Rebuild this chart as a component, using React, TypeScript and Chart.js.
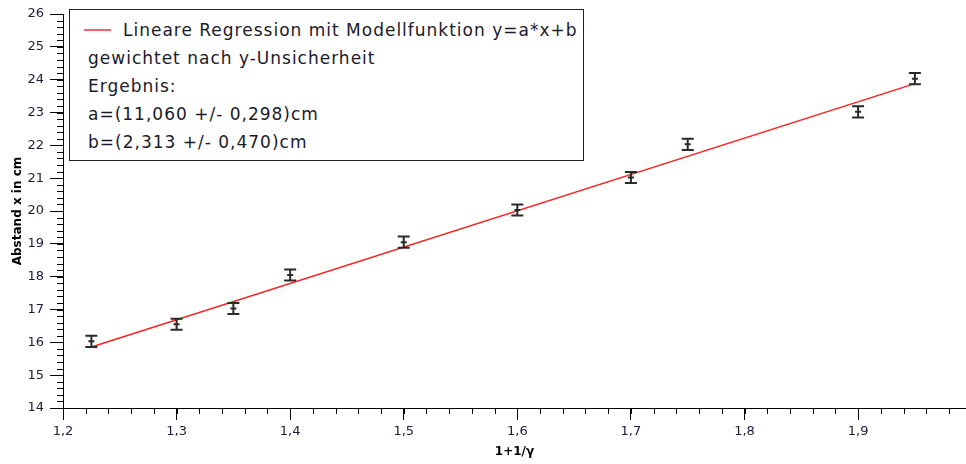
import React, { useEffect, useRef } from "react";
import { Chart, registerables } from "chart.js";

Chart.register(...registerables);

const xValues = [1.225, 1.3, 1.35, 1.4, 1.5, 1.6, 1.7, 1.75, 1.9, 1.95];
const yValues = [16.03, 16.55, 17.03, 18.05, 19.05, 20.03, 21.02, 22.03, 23.02, 24.03];
const yErrors = [0.17, 0.17, 0.17, 0.17, 0.17, 0.17, 0.17, 0.17, 0.17, 0.17];
const fitX = [1.225, 1.95];
const fitY = [15.86, 23.88];
const xTicks = [1.2, 1.3, 1.4, 1.5, 1.6, 1.7, 1.8, 1.9];
const legendLines = [
  "gewichtet nach y-Unsicherheit",
  "Ergebnis:",
  "a=(11,060 +/- 0,298)cm",
  "b=(2,313 +/- 0,470)cm",
];
const legendTitle = "Lineare Regression mit Modellfunktion y=a*x+b";

const FONT = "'DejaVu Sans', Verdana, sans-serif";

export default function App() {
  const canvasRef = useRef<HTMLCanvasElement | null>(null);

  useEffect(() => {
    document.body.style.margin = "0";
    const canvas = canvasRef.current!;
    const axisPlugin = {
      id: "extras",
      afterDatasetsDraw(chart: any) {
        const ctx = chart.ctx;
        const xs = chart.scales.x;
        const ys = chart.scales.y;
        const area = chart.chartArea;
        ctx.save();
        // minor ticks
        ctx.strokeStyle = "#000";
        ctx.lineWidth = 1;
        ctx.beginPath();
        for (let v = 1.2; v <= 2.0; v += 0.02) {
          const px = Math.round(xs.getPixelForValue(v)) + 0.5;
          if (px > area.right + 1) break;
          ctx.moveTo(px, area.bottom);
          ctx.lineTo(px, area.bottom + 6);
        }
        for (let v = 14; v <= 26.001; v += 0.2) {
          const py = Math.round(ys.getPixelForValue(v)) + 0.5;
          ctx.moveTo(area.left, py);
          ctx.lineTo(area.left - 6, py);
        }
        ctx.stroke();
        // error bars
        ctx.strokeStyle = "#2a2a2a";
        ctx.lineWidth = 2;
        ctx.beginPath();
        for (let i = 0; i < xValues.length; i++) {
          const px = xs.getPixelForValue(xValues[i]);
          const top = ys.getPixelForValue(yValues[i] + yErrors[i]);
          const bot = ys.getPixelForValue(yValues[i] - yErrors[i]);
          const mid = ys.getPixelForValue(yValues[i]);
          ctx.moveTo(px, top);
          ctx.lineTo(px, bot);
          ctx.moveTo(px - 6, top);
          ctx.lineTo(px + 6, top);
          ctx.moveTo(px - 6, bot);
          ctx.lineTo(px + 6, bot);
          ctx.moveTo(px - 3, mid);
          ctx.lineTo(px + 3, mid);
        }
        ctx.stroke();
        ctx.restore();
      },
    };

    const chart = new Chart(canvas, {
      type: "scatter",
      data: {
        datasets: [
          {
            type: "line",
            label: legendTitle,
            data: fitX.map((x, i) => ({ x, y: fitY[i] })),
            borderColor: "#ff2020",
            borderWidth: 1.5,
            pointRadius: 0,
            showLine: true,
          },
          {
            label: "data",
            data: xValues.map((x, i) => ({ x, y: yValues[i] })),
            pointRadius: 0,
            backgroundColor: "#2a2a2a",
          },
        ],
      },
      options: {
        animation: false,
        responsive: false,
        maintainAspectRatio: false,
        layout: { padding: { top: 14, right: 0, left: 0, bottom: 0 } },
        plugins: { legend: { display: false }, tooltip: { enabled: false } },
        scales: {
          x: {
            type: "linear",
            min: 1.2,
            max: 1.995,
            afterBuildTicks: (s: any) => {
              s.ticks = xTicks.map((v) => ({ value: v }));
            },
            afterFit: (s: any) => {
              s.height = 56;
            },
            ticks: {
              color: "#1c1c3c",
              font: { family: FONT, size: 13 },
              padding: 4,
              maxRotation: 0,
              autoSkip: false,
              callback: (v: any) => Number(v).toFixed(1).replace(".", ","),
            },
            grid: {
              display: true,
              drawOnChartArea: false,
              drawTicks: true,
              tickLength: 12,
              color: "#000",
            },
            border: { display: true, color: "#000", width: 1 },
            title: {
              display: true,
              text: "1+1/γ",
              color: "#000",
              font: { family: FONT, size: 12, weight: "bold" },
              padding: { top: 0, bottom: 5 },
            },
          },
          y: {
            type: "linear",
            min: 14,
            max: 26,
            afterFit: (s: any) => {
              s.width = 63;
            },
            ticks: {
              stepSize: 1,
              color: "#1c1c3c",
              font: { family: FONT, size: 13 },
              padding: 6,
            },
            grid: {
              display: true,
              drawOnChartArea: false,
              drawTicks: true,
              tickLength: 13,
              color: "#000",
            },
            border: { display: true, color: "#000", width: 1 },
            title: {
              display: true,
              text: "Abstand x in cm",
              color: "#000",
              font: { family: FONT, size: 12, weight: "bold" },
              padding: { top: 11, bottom: 0 },
            },
          },
        },
      },
      plugins: [axisPlugin],
    } as any);
    return () => chart.destroy();
  }, []);

  return (
    <div style={{ position: "relative", width: 966, height: 464, background: "#fff" }}>
      <canvas ref={canvasRef} width={966} height={464} style={{ display: "block" }} />
      <div
        style={{
          position: "absolute",
          left: 69,
          top: 9,
          width: 515,
          height: 152,
          border: "1.5px solid #222",
          background: "#fff",
          boxSizing: "border-box",
          fontFamily: FONT,
          fontSize: 17,
          letterSpacing: "1px",
          color: "#1a1a2a",
          lineHeight: "28px",
          paddingTop: 6,
          paddingLeft: 18,
        }}
      >
        <div style={{ position: "relative", paddingLeft: 35, whiteSpace: "nowrap" }}>
          <span
            style={{
              position: "absolute",
              left: -4,
              top: 13,
              width: 27,
              height: 2,
              background: "#ff6070",
            }}
          />
          {legendTitle}
        </div>
        {legendLines.map((l) => (
          <div key={l} style={{ whiteSpace: "nowrap" }}>
            {l}
          </div>
        ))}
      </div>
    </div>
  );
}
